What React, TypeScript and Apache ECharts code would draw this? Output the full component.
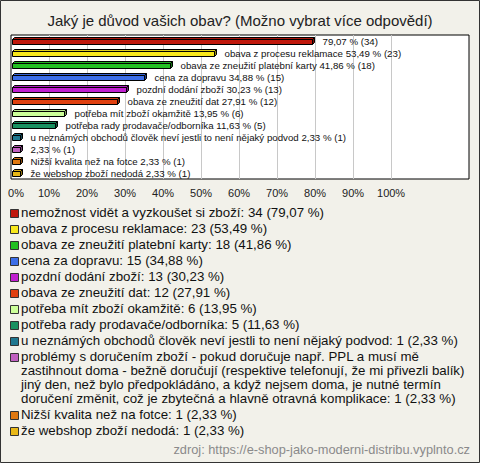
import React, { useEffect, useRef } from "react";
import * as echarts from "echarts";

const TITLE = "Jaký je důvod vašich obav? (Možno vybrat více odpovědí)";
const SOURCE = "zdroj: https://e-shop-jako-moderni-distribu.vyplnto.cz";

const categories = [
  "nemožnost vidět a vyzkoušet si zboží",
  "obava z procesu reklamace",
  "obava ze zneužití platební karty",
  "cena za dopravu",
  "pozdní dodání zboží",
  "obava ze zneužití dat",
  "potřeba mít zboží okamžitě",
  "potřeba rady prodavače/odborníka",
  "u neznámých obchodů člověk neví jestli to není nějaký podvod",
  "problémy s doručením zboží - pokud doručuje např. PPL a musí mě\nzastihnout doma - bežně doručují (respektive telefonují, že mi přivezli balík)\njiný den, než bylo předpokládáno, a když nejsem doma, je nutné termín\ndoručení změnit, což je zbytečná a hlavně otravná komplikace",
  "Nižší kvalita než na fotce",
  "že webshop zboží nedodá",
];
const counts = [34, 23, 18, 15, 13, 12, 6, 5, 1, 1, 1, 1];
const percents = [79.07, 53.49, 41.86, 34.88, 30.23, 27.91, 13.95, 11.63, 2.33, 2.33, 2.33, 2.33];
const showNameOnBar = [false, true, true, true, true, true, true, true, true, false, true, true];
const colors = [
  "#c0180c", "#f8e81c", "#22c022", "#3c6ee8", "#c020d0", "#e04010",
  "#ccff99", "#189060", "#207890", "#c060c0", "#e07810", "#e8b818",
];
const gridTicks = [10, 20, 30, 40, 50, 60, 70, 80, 90, 100];

const fmt = (v: number) => v.toFixed(2).replace(".", ",");
const FONT = "'Liberation Sans', Arial, sans-serif";

function shade(hex: string, f: number) {
  const n = parseInt(hex.slice(1), 16);
  let r = (n >> 16) & 255, g = (n >> 8) & 255, b = n & 255;
  r = Math.round(r * f); g = Math.round(g * f); b = Math.round(b * f);
  return "rgb(" + Math.min(255, r) + "," + Math.min(255, g) + "," + Math.min(255, b) + ")";
}

export default function App() {
  const ref = useRef<HTMLDivElement>(null);
  useEffect(() => {
    document.body.style.margin = "0";
    const chart = echarts.init(ref.current!, null, { renderer: "svg" });

    const legendEls: any[] = [];
    let y = 213;
    categories.forEach((c, i) => {
      const lines = c.split("\n");
      const text = lines
        .slice(0, -1)
        .concat([lines[lines.length - 1] + ": " + counts[i] + " (" + fmt(percents[i]) + " %)"])
        .join("\n");
      legendEls.push({
        type: "rect",
        shape: { x: 10.5, y: Math.round(y - 4) + 0.5, width: 8, height: 8 },
        style: { fill: colors[i], stroke: "#333", lineWidth: 1 },
      });
      legendEls.push({
        type: "text",
        x: 21,
        y: y - 7.5,
        style: {
          text,
          font: "13.3px " + FONT,
          fill: "#111",
          lineHeight: 14,
          verticalAlign: "top",
          align: "left",
        },
      });
      y += (lines.length - 1) * 14 + 16;
    });

    const option: any = {
      animation: false,
      backgroundColor: "#f2f1ea",
      title: {
        text: TITLE,
        left: "center",
        top: 8,
        textStyle: { fontFamily: FONT, fontSize: 15, fontWeight: "normal", color: "#222" },
      },
      grid: {
        left: 11, top: 35, width: 458, height: 144,
        show: true, backgroundColor: "#fff", borderColor: "#000", borderWidth: 1,
      },
      xAxis: {
        type: "value", min: 0, max: 120.5, interval: 10,
        axisLine: { show: false }, axisTick: { show: false }, splitLine: { show: false },
        axisLabel: {
          margin: 8, color: "#222", fontSize: 11, fontFamily: FONT,
          formatter: (v: number) => (v === 0 ? "{z|0%}" : v <= 100 ? v + "%" : ""),
          rich: { z: { padding: [0, 0, 0, 10], fontSize: 11, fontFamily: FONT, color: "#222" } },
        },
      },
      yAxis: {
        type: "category", data: categories, inverse: true,
        axisLine: { show: false }, axisTick: { show: false }, axisLabel: { show: false },
        splitLine: { show: false },
      },
      series: [
        {
          type: "scatter", data: [], z: 1, silent: true,
          markLine: {
            silent: true, symbol: "none", label: { show: false },
            lineStyle: { color: "#c8c8c8", type: "solid", width: 1 },
            data: gridTicks.map((t) => ({ xAxis: t })),
          },
        },
        {
          type: "custom", z: 5,
          data: percents.map((p, i) => [p, i]),
          renderItem: (params: any, api: any) => {
            const i = params.dataIndex;
            const v = api.value(0);
            const idx = api.value(1);
            const s = api.coord([0, idx]);
            const e = api.coord([v, idx]);
            const x0 = Math.round(s[0]) + 1.5;
            const x1 = Math.round(e[0]) + 0.5;
            const yc = Math.round(s[1]);
            const d = 2;
            const top = yc - 1.5;
            const bot = yc + 3.5;
            const col = colors[i];
            const label = (showNameOnBar[i] ? categories[i] + " " : "") + fmt(percents[i]) + " % (" + counts[i] + ")";
            return {
              type: "group",
              children: [
                {
                  type: "polygon",
                  shape: { points: [[x0, top], [x0 + d, top - d], [x1 + d, top - d], [x1, top]] },
                  style: { fill: shade(col, 0.9), stroke: "#000", lineWidth: 1 },
                },
                {
                  type: "polygon",
                  shape: { points: [[x1, top], [x1 + d, top - d], [x1 + d, bot - d], [x1, bot]] },
                  style: { fill: shade(col, 0.6), stroke: "#000", lineWidth: 1 },
                },
                {
                  type: "rect",
                  shape: { x: x0, y: top, width: x1 - x0, height: bot - top },
                  style: { fill: col, stroke: "#000", lineWidth: 1 },
                },
                {
                  type: "text",
                  x: x1 + 10,
                  y: yc,
                  style: { text: label, font: "9.7px " + FONT, fill: "#111", verticalAlign: "middle", align: "left" },
                },
              ],
            };
          },
        },
      ],
      graphic: [
        {
          type: "rect",
          shape: { x: 0.5, y: 0.5, width: 479, height: 462 },
          style: { fill: "none", stroke: "#333", lineWidth: 1 },
          silent: true,
        },
        ...legendEls,
        {
          type: "text",
          x: 470,
          y: 449,
          style: { text: SOURCE, font: "12.8px " + FONT, fill: "#8a8a8a", align: "right", verticalAlign: "middle" },
        },
      ],
    };
    chart.setOption(option);
    return () => chart.dispose();
  }, []);
  return <div ref={ref} style={{ width: 480, height: 463 }} />;
}
